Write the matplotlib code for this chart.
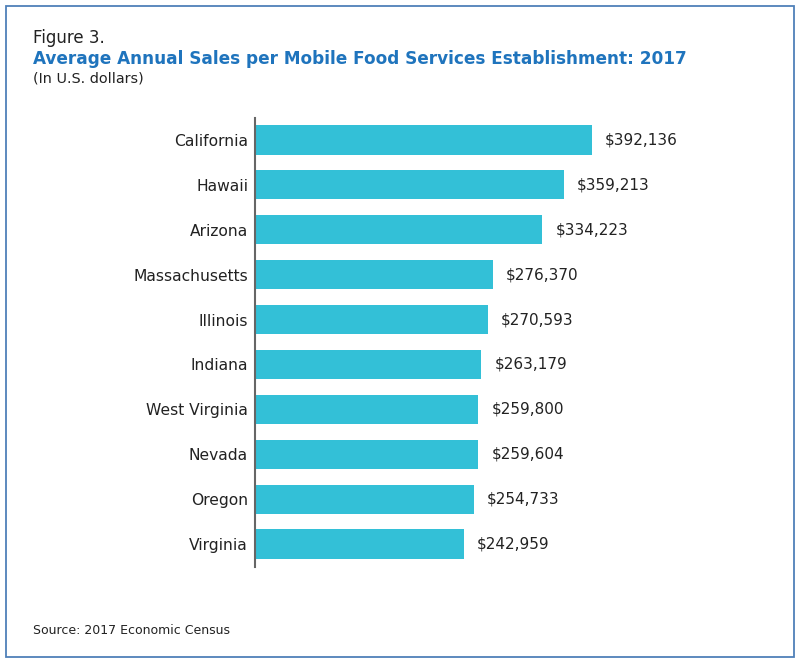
import matplotlib
matplotlib.use("Agg")
import matplotlib.pyplot as plt
import matplotlib.patches as mpatches

# data
states = ["California", "Hawaii", "Arizona", "Massachusetts", "Illinois",
          "Indiana", "West Virginia", "Nevada", "Oregon", "Virginia"]
sales = [392136, 359213, 334223, 276370, 270593,
         263179, 259800, 259604, 254733, 242959]

barColor = "#33c0d7"
titleColor = "#1f74bd"
textColor = "#222222"

plt.rcParams['font.family'] = ['DejaVu Sans']

fig = plt.figure(figsize=(8, 6.62), dpi=100)

# outer frame
fig.patches.append(mpatches.Rectangle((6/800, 5/662), 788/800, 651/662,
                                      transform=fig.transFigure, fill=False,
                                      edgecolor="#4f80b9", linewidth=1.3))

ax = fig.add_axes([255/800, 1 - 566.5/662, 540/800, 449/662])

y = list(range(len(states)))
ax.barh(y, sales, height=0.65, color=barColor, edgecolor="none")
ax.set_ylim(len(states) - 0.5, -0.5)
ax.set_xlim(0, 628300)

ax.set_yticks(y)
ax.set_yticklabels(states, fontsize=11.2, color=textColor)
ax.tick_params(axis="y", length=0, pad=5)
ax.set_xticks([])

for side in ["top", "right", "bottom"]:
    ax.spines[side].set_visible(False)
ax.spines["left"].set_color("#666666")
ax.spines["left"].set_linewidth(1.5)

for i, v in enumerate(sales):
    ax.annotate(f"${v:,}", (v, i), xytext=(9.5, 0), textcoords="offset points",
                va="center", ha="left", fontsize=11, color=textColor)

fig.text(33/800, 1 - 38/662, "Figure 3.", fontsize=12, color=textColor,
         va="center", ha="left")
fig.text(33/800, 1 - 59/662,
         "Average Annual Sales per Mobile Food Services Establishment: 2017",
         fontsize=12.15, fontweight="bold", color=titleColor, va="center", ha="left")
fig.text(33/800, 1 - 78/662, "(In U.S. dollars)", fontsize=10.4, color=textColor,
         va="center", ha="left")
fig.text(33/800, 1 - 631/662, "Source: 2017 Economic Census", fontsize=9,
         color=textColor, va="center", ha="left")

fig.savefig("out.png", dpi=100)
